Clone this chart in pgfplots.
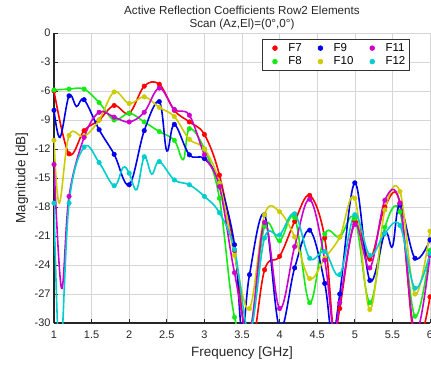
\documentclass[border=0pt]{standalone}
\usepackage{fontspec}
\setmainfont{Liberation Sans}
\usepackage{pgfplots}
\pgfplotsset{compat=1.18}
\usepackage{pgfplotstable}

\definecolor{cF7}{RGB}{255,0,0}
\definecolor{cF8}{RGB}{20,235,20}
\definecolor{cF9}{RGB}{0,0,235}
\definecolor{cF10}{RGB}{204,204,0}
\definecolor{cF11}{RGB}{205,0,205}
\definecolor{cF12}{RGB}{0,205,205}

% columns: frequency, magnitude along the curve, magnitude where a marker sits (nan = no marker)
\pgfplotstableread{
f v vm
1.0 -6.0 -6.0
1.2 -12.5 -12.5
1.4 -10.1 -10.1
1.6 -9.0 -9.0
1.8 -7.5 -7.5
2.0 -8.3 -8.3
2.2 -5.5 -5.5
2.4 -5.3 -5.3
2.6 -8.0 -8.0
2.8 -9.2 -9.2
3.0 -10.5 -10.5
3.2 -14.7 -14.7
3.4 -22.5 -22.5
3.6 -33.0 -33.0
3.8 -24.5 -24.5
4.0 -23.1 -23.1
4.2 -19.5 -19.5
4.4 -16.8 -16.8
4.6 -21.2 -21.2
4.72 -31.0 nan
4.8 -28.5 -28.5
5.0 -19.5 -19.5
5.2 -23.4 -23.4
5.4 -18.0 -18.0
5.6 -17.6 -17.6
5.8 -32.0 -32.0
6.0 -27.3 -27.3
}\tFseven

\pgfplotstableread{
f v vm
1.0 -5.9 -5.9
1.2 -5.8 -5.8
1.4 -5.8 -5.8
1.6 -7.2 -7.2
1.8 -9.0 -9.0
2.0 -8.3 -8.3
2.2 -9.2 -9.2
2.4 -10.2 -10.2
2.6 -11.1 -11.1
2.72 -13.1 nan
2.8 -9.9 -9.9
3.0 -12.0 -12.0
3.2 -17.1 -17.1
3.4 -29.4 -29.4
3.6 -31.0 -31.0
3.8 -20.0 -20.0
4.0 -21.5 -21.5
4.2 -19.1 -19.1
4.4 -27.9 -27.9
4.6 -20.8 -20.8
4.8 -21.1 -21.1
5.0 -19.2 -19.2
5.2 -27.9 -27.9
5.4 -20.1 -20.1
5.6 -18.5 -18.5
5.8 -29.3 -29.3
6.0 -22.5 -22.5
}\tFeight

\pgfplotstableread{
f v vm
1.0 -8.0 -8.0
1.08 -10.8 nan
1.2 -6.5 -6.5
1.3 -7.6 nan
1.4 -6.9 -6.9
1.6 -10.0 -10.0
1.8 -12.55 -12.55
2.0 -15.7 -15.7
2.2 -10.1 -10.1
2.4 -7.1 -7.1
2.5 -12.2 nan
2.6 -9.45 -9.45
2.8 -12.6 -12.6
3.0 -13.0 -13.0
3.2 -15.5 -15.5
3.4 -21.9 -21.9
3.5 -31.0 nan
3.6 -25.0 -25.0
3.8 -18.8 -18.8
4.0 -30.5 -30.5
4.2 -24.3 -24.3
4.4 -20.4 -20.4
4.6 -25.9 -25.9
4.7 -31.5 nan
4.8 -27.0 -27.0
5.0 -15.5 -15.5
5.2 -25.6 -25.6
5.4 -20.7 -20.7
5.5 -22.1 nan
5.6 -17.8 -17.8
5.8 -23.3 -23.3
6.0 -21.4 -21.4
}\tFnine

\pgfplotstableread{
f v vm
1.0 -11.1 -11.1
1.07 -17.6 nan
1.2 -10.6 -10.6
1.4 -10.7 -10.7
1.6 -9.0 -9.0
1.8 -6.1 -6.1
2.0 -7.3 -7.3
2.2 -6.6 -6.6
2.4 -7.7 -7.7
2.6 -8.65 -8.65
2.8 -11.0 -11.0
3.0 -12.0 -12.0
3.2 -15.5 -15.5
3.4 -23.0 -23.0
3.6 -28.5 -28.5
3.8 -18.8 -18.8
4.0 -18.5 -18.5
4.2 -21.1 -21.1
4.4 -25.4 -25.4
4.6 -23.3 -23.3
4.8 -21.1 -21.1
5.0 -17.1 -17.1
5.2 -28.6 -28.6
5.4 -18.3 -18.3
5.6 -16.4 -16.4
5.8 -27.0 -27.0
6.0 -20.5 -20.5
}\tFten

\pgfplotstableread{
f v vm
1.0 -13.6 -13.6
1.1 -26.4 nan
1.2 -16.9 -16.9
1.4 -10.8 -10.8
1.6 -8.2 -8.2
1.8 -8.7 -8.7
2.0 -9.2 -9.2
2.2 -8.2 -8.2
2.4 -5.7 -5.7
2.6 -7.9 -7.9
2.8 -8.5 -8.5
3.0 -12.6 -12.6
3.2 -15.9 -15.9
3.4 -24.8 -24.8
3.6 -31.0 -31.0
3.8 -19.6 -19.6
4.0 -28.5 -28.5
4.2 -22.1 -22.1
4.4 -17.2 -17.2
4.6 -23.5 -23.5
4.72 -31.0 nan
4.8 -27.9 -27.9
5.0 -19.8 -19.8
5.2 -24.3 -24.3
5.4 -17.3 -17.3
5.6 -17.6 -17.6
5.8 -31.0 -31.0
6.0 -23.0 -23.0
}\tFeleven

\pgfplotstableread{
f v vm
1.0 -17.6 -17.6
1.08 -34.0 nan
1.2 -17.6 -17.6
1.4 -11.8 -11.8
1.6 -13.4 -13.4
1.8 -15.8 -15.8
1.92 -13.9 nan
2.0 -14.5 -14.5
2.1 -16.2 nan
2.2 -12.8 -12.8
2.3 -14.6 nan
2.4 -13.3 -13.3
2.6 -15.2 -15.2
2.8 -15.7 -15.7
3.0 -16.9 -16.9
3.2 -18.6 -18.6
3.4 -22.4 -22.4
3.6 -31.0 -31.0
3.8 -21.2 -21.2
4.0 -20.9 -20.9
4.2 -18.7 -18.7
4.4 -23.3 -23.3
4.6 -22.6 -22.6
4.8 -25.0 -25.0
5.0 -18.8 -18.8
5.2 -23.0 -23.0
5.4 -20.7 -20.7
5.6 -19.9 -19.9
5.8 -26.4 -26.4
6.0 -22.8 -22.8
}\tFtwelve

\pgfplotsset{
  curve/.style={smooth, tension=0.6, line width=1.6bp, color=#1, no markers, forget plot},
  dots/.style={only marks, mark=*, mark size=2.3bp, color=#1,
    legend image code/.code={\path (0bp,0bp) (16bp,0bp); \fill[#1] (10bp,0bp) circle (2.4bp);}},
}

\begin{document}
\begin{tikzpicture}
\begin{axis}[
  name=ax, at={(0,0)}, anchor=south west,
  scale only axis, width=376bp, height=290bp,
  xmin=1, xmax=6, ymin=-30, ymax=0,
  xtick={1,1.5,2,2.5,3,3.5,4,4.5,5,5.5,6},
  xticklabels={1,1.5,2,2.5,3,3.5,4,4.5,5,5.5,6},
  ytick={-30,-27,-24,-21,-18,-15,-12,-9,-6,-3,0},
  yticklabels={-30,-27,-24,-21,-18,-15,-12,-9,-6,-3,0},
  axis x line*=bottom, axis y line*=left,
  axis line style={-, black!85, line width=1.1bp},
  tick align=inside, major tick length=4bp,
  tick style={black!85, line width=0.8bp},
  grid=major, grid style={black!16, line width=0.6bp},
  ticklabel style={font=\fontsize{11}{13}\selectfont, text=black!85},
  xticklabel style={yshift=-4.5bp},
  xlabel={Frequency [GHz]},
  ylabel={Magnitude [dB]},
  xlabel style={font=\fontsize{13.5}{15}\selectfont, text=black!85,
    at={(axis description cs:0.5,-0.1034)}, anchor=center},
  ylabel style={font=\fontsize{13.5}{15}\selectfont, text=black!85,
    at={(axis description cs:-0.0851,0.5)}, anchor=center, rotate=0},
  title={Active Reflection Coefficients Row2 Elements\\Scan (Az,El)=(0°,0°)},
  title style={font=\fontsize{11.7}{13.5}\selectfont, align=center, text=black!85,
    at={(axis description cs:0.5,1.054)}, anchor=center, yshift=-6.5bp},
  legend columns=2, transpose legend, legend cell align=left,
  legend style={at={(0.947,0.979)}, anchor=north east,
    draw=black!80, line width=0.6bp, fill=white,
    font=\fontsize{11.5}{12.5}\selectfont, inner xsep=2.5bp, inner ysep=2bp,
    /tikz/every odd column/.style={column sep=5bp},
    /tikz/every even column/.style={column sep=6.5bp}},
  clip=true,
]
\addplot[curve=cF7] table[x=f,y=v] {\tFseven};
\addplot[dots=cF7] table[x=f,y=vm] {\tFseven};
\addlegendentry{F7}
\addplot[curve=cF8] table[x=f,y=v] {\tFeight};
\addplot[dots=cF8] table[x=f,y=vm] {\tFeight};
\addlegendentry{F8}
\addplot[curve=cF9] table[x=f,y=v] {\tFnine};
\addplot[dots=cF9] table[x=f,y=vm] {\tFnine};
\addlegendentry{F9}
\addplot[curve=cF10] table[x=f,y=v] {\tFten};
\addplot[dots=cF10] table[x=f,y=vm] {\tFten};
\addlegendentry{F10}
\addplot[curve=cF11] table[x=f,y=v] {\tFeleven};
\addplot[dots=cF11] table[x=f,y=vm] {\tFeleven};
\addlegendentry{F11}
\addplot[curve=cF12] table[x=f,y=v] {\tFtwelve};
\addplot[dots=cF12] table[x=f,y=vm] {\tFtwelve};
\addlegendentry{F12}
\end{axis}
\pgfresetboundingbox
\path[use as bounding box] ([xshift=-54bp,yshift=-45bp]ax.south west) rectangle ([xshift=1bp,yshift=33bp]ax.north east);
\end{tikzpicture}
\end{document}
